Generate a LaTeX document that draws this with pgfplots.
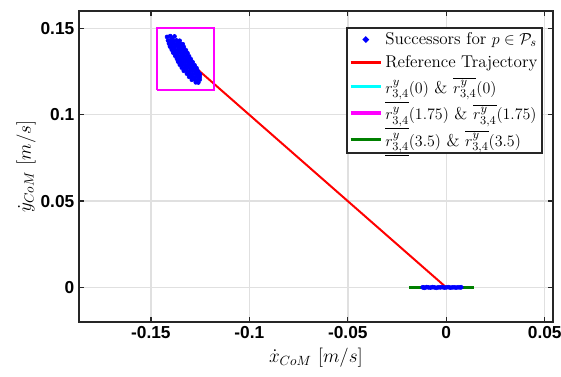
\documentclass[border=0pt]{standalone}
\usepackage{pgfplots}
\usepackage{fontspec}
\pgfplotsset{compat=1.18}
\newfontfamily\helv{Liberation Sans}
\definecolor{mgreen}{rgb}{0,0.5,0}
\definecolor{pmag}{rgb}{1,0,1}
\definecolor{pcyan}{rgb}{0,1,1}
\definecolor{axgray}{rgb}{0.15,0.15,0.15}

\begin{document}
\begin{tikzpicture}
\begin{axis}[
  scale only axis,
  width=355.5pt, height=233.25pt,
  xmin=-0.1865, xmax=0.0542,
  ymin=-0.02, ymax=0.16,
  xtick={-0.15,-0.1,-0.05,0,0.05},
  xticklabels={-0.15,-0.1,-0.05,0,0.05},
  ytick={0,0.05,0.1,0.15},
  yticklabels={0,0.05,0.1,0.15},
  tick label style={font=\helv\bfseries\fontsize{13}{13}\selectfont},
  grid=major,
  grid style={line width=1.1pt, black!12},
  axis line style={line width=1.5pt, axgray},
  tick style={line width=1pt, axgray},
  tick align=inside,
  major tick length=4pt,
  xlabel={$\dot{x}_{CoM}\ [m/s]$},
  ylabel={$\dot{y}_{CoM}\ [m/s]$},
  every axis x label/.style={at={(rel axis cs:0.5,0)}, anchor=center,
    yshift=-27pt, font=\fontsize{14}{14}\selectfont},
  every axis y label/.style={at={(rel axis cs:0,0.5)}, anchor=center,
    xshift=-39.75pt, rotate=90, font=\fontsize{14}{14}\selectfont},
  legend cell align=left,
  legend style={at={(0.979,0.949)}, anchor=north east,
    font=\fontsize{12.8}{15}\selectfont,
    draw=axgray, line width=1.5pt, fill=white,
    inner sep=1.5pt, row sep=2.5pt},
  legend image code/.code={%
    \draw[mark repeat=2,mark phase=2,#1] plot coordinates {(0cm,0cm) (0.4cm,0cm) (0.8cm,0cm)};},
  legend image post style={line width=2.5pt},
]
\addlegendimage{only marks, mark=*, mark size=0.8pt, blue}
\addlegendentry{Successors for $p \in \mathcal{P}_s$}
\addlegendimage{red, line width=2pt}
\addlegendentry{Reference Trajectory}
\addlegendimage{pcyan}
\addlegendentry{$\underline{r^y_{3,4}}(0)$ \& $\overline{r^y_{3,4}}(0)$}
\addlegendimage{pmag}
\addlegendentry{$\underline{r^y_{3,4}}(1.75)$ \& $\overline{r^y_{3,4}}(1.75)$}
\addlegendimage{mgreen}
\addlegendentry{$\underline{r^y_{3,4}}(3.5)$ \& $\overline{r^y_{3,4}}(3.5)$}

% reference trajectory
\addplot[red, line width=1.5pt, forget plot] coordinates {(0,0) (-0.1303,0.1302)};
% bounds
\addplot[pmag, line width=1.5pt, forget plot] coordinates {
  (-0.147,0.114) (-0.118,0.114) (-0.118,0.150) (-0.147,0.150) (-0.147,0.114)};
\addplot[mgreen, line width=1.8pt, forget plot] coordinates {(-0.019,0) (0.0143,0)};
\addplot[pcyan, line width=1.8pt, forget plot] coordinates {(-0.0004,0) (0.0004,0)};

% successors
\addplot[only marks, mark=*, mark size=1.5pt, blue, forget plot] coordinates {
  (-0.1418,0.1450) (-0.1402,0.1455) (-0.1380,0.1453) (-0.1392,0.1444)
  (-0.1413,0.1429) (-0.1400,0.1431) (-0.1385,0.1427) (-0.1370,0.1430) (-0.1354,0.1428)
  (-0.1408,0.1411) (-0.1395,0.1413) (-0.1380,0.1409) (-0.1365,0.1412) (-0.1350,0.1410) (-0.1338,0.1408)
  (-0.1403,0.1394) (-0.1390,0.1392) (-0.1375,0.1396) (-0.1360,0.1393) (-0.1345,0.1395) (-0.1332,0.1391)
  (-0.1394,0.1376) (-0.1380,0.1378) (-0.1365,0.1374) (-0.1350,0.1377) (-0.1335,0.1375) (-0.1322,0.1373)
  (-0.1387,0.1359) (-0.1374,0.1357) (-0.1359,0.1361) (-0.1344,0.1358) (-0.1329,0.1360) (-0.1314,0.1356)
  (-0.1377,0.1341) (-0.1364,0.1343) (-0.1349,0.1339) (-0.1334,0.1342) (-0.1318,0.1340) (-0.1306,0.1338)
  (-0.1368,0.1324) (-0.1354,0.1322) (-0.1339,0.1326) (-0.1324,0.1323) (-0.1309,0.1325) (-0.1297,0.1321)
  (-0.1362,0.1307) (-0.1349,0.1309) (-0.1334,0.1305) (-0.1319,0.1308) (-0.1304,0.1306) (-0.1288,0.1304)
  (-0.1353,0.1289) (-0.1339,0.1291) (-0.1324,0.1287) (-0.1309,0.1290) (-0.1293,0.1288) (-0.1278,0.1286)
  (-0.1343,0.1272) (-0.1329,0.1270) (-0.1314,0.1274) (-0.1299,0.1271) (-0.1283,0.1273) (-0.1268,0.1269)
  (-0.1333,0.1254) (-0.1319,0.1256) (-0.1304,0.1252) (-0.1289,0.1255) (-0.1274,0.1253) (-0.1261,0.1251)
  (-0.1317,0.1237) (-0.1304,0.1239) (-0.1289,0.1235) (-0.1274,0.1238) (-0.1259,0.1236) (-0.1251,0.1234)
  (-0.1306,0.1219) (-0.1294,0.1221) (-0.1279,0.1217) (-0.1264,0.1220) (-0.1252,0.1218)
  (-0.1292,0.1202) (-0.1278,0.1204) (-0.1263,0.1200) (-0.1252,0.1203)
  (-0.1272,0.1187) (-0.1259,0.1186)
  (-0.0120,0.0001) (-0.0115,0) (-0.0110,-0.0002) (-0.0100,0.0002) (-0.0090,0) (-0.0080,-0.0001)
  (-0.0070,0.0002) (-0.0060,0) (-0.0050,-0.0002) (-0.0040,0.0001) (-0.0030,0) (-0.0020,0.0002)
  (-0.0010,-0.0001) (0,0) (0.0010,0.0002) (0.0020,-0.0001) (0.0030,0) (0.0040,0.0001)
  (0.0050,-0.0001) (0.0060,0.0001) (0.0070,0) (0.0076,0.0001)
};
\end{axis}
\pgfresetboundingbox
\path (-59.25pt,-40.5pt) rectangle (361.5pt,241.5pt);
\end{tikzpicture}
\end{document}
